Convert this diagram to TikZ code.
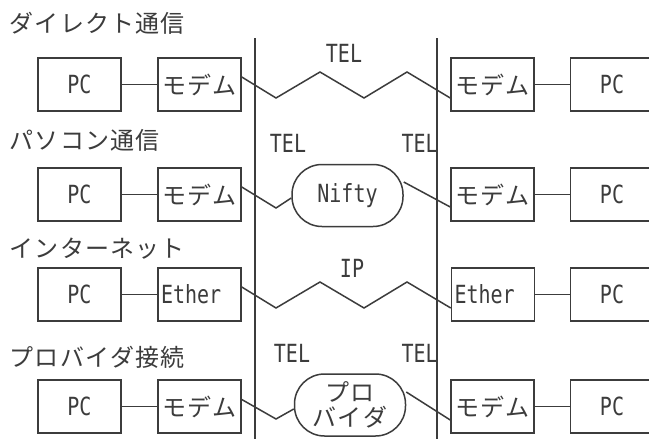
\documentclass[tikz,border=0pt]{standalone}
\usepackage{fontspec}
\newfontfamily\jp[LetterSpace=5,Kerning=Off]{Noto Sans CJK JP}
\newfontfamily\lat[FakeStretch=0.8]{DejaVu Sans Mono}
\definecolor{ink}{HTML}{3C3C3C}
\begin{document}
\begin{tikzpicture}[x=1pt,y=-1pt,line width=1.5pt,
  jpt/.style={font=\jp\fontsize{24}{25}\selectfont,text=ink,inner sep=0pt},
  ltt/.style={font=\lat\fontsize{25}{26}\selectfont,text=ink,inner sep=0pt},
  box/.style={draw=ink,line width=1.5pt,minimum width=83pt,minimum height=53pt,inner sep=0pt},
  lbox/.style={box,text width=77pt,align=left,inner xsep=3pt},
  cloud/.style={draw=ink,line width=1.5pt,rounded corners=30pt,minimum width=111pt,minimum height=62pt,inner sep=0pt},
  wire/.style={draw=ink,line width=1.5pt}]
\fill[white] (0,0) rectangle (649,439);
\useasboundingbox (0,0) rectangle (649,439);
\clip (0,0) rectangle (649,439);
% vertical lines
\coordinate (vlt) at (255,38); \coordinate (vlb) at (255,441);
\coordinate (vrt) at (437,38); \coordinate (vrb) at (437,441);
\draw[wire] (vlt) -- (vlb);
\draw[wire] (vrt) -- (vrb);
% row labels
\node[jpt,anchor=west] (l1) at (9,23) {ダイレクト通信};
\node[jpt,anchor=west] (l2) at (9,140) {パソコン通信};
\node[jpt,anchor=west] (l3) at (9,249) {インターネット};
\node[jpt,anchor=west] (l4) at (9,357) {プロバイダ接続};
% row 1
\node[box,ltt] (pc1) at (79.5,84.5) {PC};
\node[box,jpt] (m1) at (199.5,84.5) {モデム};
\node[box,jpt] (m1r) at (492.5,84.5) {モデム};
\node[box,ltt] (pc1r) at (612,84.5) {PC};
\draw[wire] (pc1) -- (m1);
\draw[wire] (m1r) -- (pc1r);
\draw[wire] ([yshift=7.5pt]m1.east) -- (276,98) -- (320,72) -- (364,98) -- (407,72) -- ([yshift=-13.5pt]m1r.west);
\node[ltt] (tel1) at (344,53) {TEL};
% row 2
\node[box,ltt] (pc2) at (79.5,194.5) {PC};
\node[box,jpt] (m2) at (199.5,194.5) {モデム};
\node[box,jpt] (m2r) at (492.5,194.5) {モデム};
\node[box,ltt] (pc2r) at (612,194.5) {PC};
\draw[wire] (pc2) -- (m2);
\draw[wire] (m2r) -- (pc2r);
\node[cloud,ltt] (nifty) at (347.5,195.5) {Nifty};
\draw[wire] ([yshift=7.5pt]m2.east) -- (276,208) -- ([yshift=-2.5pt]nifty.west);
\draw[wire] ([yshift=13.5pt]nifty.east) -- ([yshift=-12.5pt]m2r.west);
\node[ltt] (tel2l) at (288,143) {TEL};
\node[ltt,anchor=east] (tel2r) at (438.5,143) {TEL};
% row 3
\node[box,ltt] (pc3) at (79.5,294.5) {PC};
\node[lbox,ltt] (e3) at (199.5,294.5) {Ether};
\node[lbox,ltt] (e3r) at (493,294.5) {Ether};
\node[box,ltt] (pc3r) at (612,294.5) {PC};
\draw[wire] (pc3) -- (e3);
\draw[wire] (e3r) -- (pc3r);
\draw[wire] ([yshift=7.5pt]e3.east) -- (276,308) -- (320,282) -- (364,308) -- (407,282) -- ([yshift=-13.5pt]e3r.west);
\node[ltt] (ip) at (352,268) {IP};
% row 4
\node[box,ltt] (pc4) at (79.5,406.5) {PC};
\node[box,jpt] (m4) at (199.5,406.5) {モデム};
\node[box,jpt] (m4r) at (492.5,406.5) {モデム};
\node[box,ltt] (pc4r) at (612,406.5) {PC};
\draw[wire] (pc4) -- (m4);
\draw[wire] (m4r) -- (pc4r);
\node[cloud,jpt,align=center] (prov) at (350,405) {プロ\\バイダ};
\draw[wire] ([yshift=7pt]m4.east) -- (276,419) -- ([yshift=-4pt]prov.west);
\draw[wire] ([yshift=13pt]prov.east) -- ([yshift=-13.5pt]m4r.west);
\node[ltt] (tel4l) at (292,353) {TEL};
\node[ltt,anchor=east] (tel4r) at (438.5,353) {TEL};
\end{tikzpicture}
\end{document}
